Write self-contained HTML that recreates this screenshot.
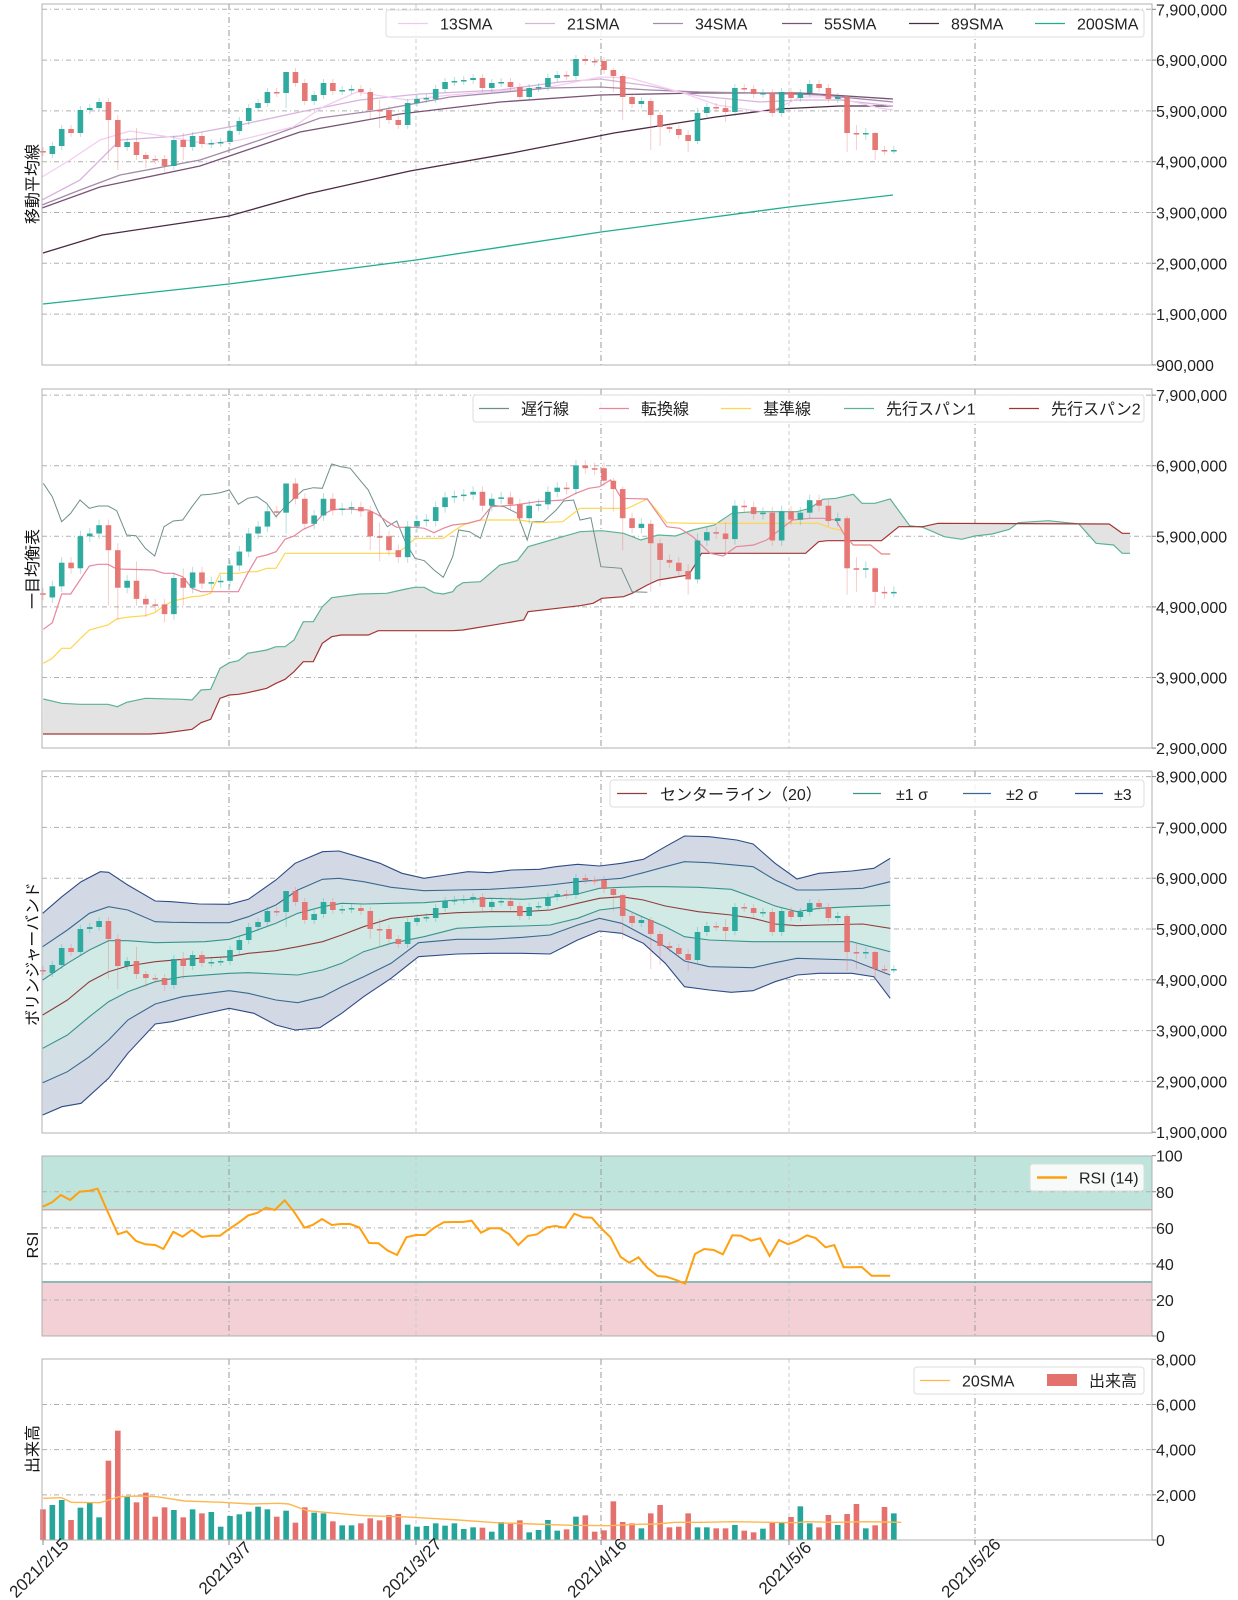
<!DOCTYPE html>
<html><head><meta charset="utf-8">
<style>
html,body{margin:0;padding:0;background:#fff;}
svg{display:block;font-family:"Liberation Sans","Noto Sans CJK JP",sans-serif;}
</style></head>
<body>
<svg id="s" xmlns="http://www.w3.org/2000/svg" width="1238" height="1600" viewBox="0 0 1238 1600"></svg>
<script>
const S=document.getElementById('s');
let H='';
const L=42,R=1152,LD=-12;
const GREEN='#26a69a',RED='#e5716f';
function X(i){return 43+i*9.35;}
function pl(pts,c,w,extra){return `<polyline fill="none" stroke="${c}" stroke-width="${w||1}" points="${pts.map(p=>p[0].toFixed(1)+','+p[1].toFixed(1)).join(' ')}" ${extra||''}/>`;}
function poly(a,b,fill){const pts=a.concat(b.slice().reverse());return `<polygon fill="${fill}" stroke="none" points="${pts.map(p=>p[0].toFixed(1)+','+p[1].toFixed(1)).join(' ')}"/>`;}
function cv(arr,f){const o=[];for(let k=0;k<arr.length;k+=2)o.push(f(arr[k],arr[k+1]));return o;}
const Z3=(a,b)=>[40+a/3,440+b/3], Z4=(a,b)=>[450+a/2.306,440+b/3], Z7=(a,b)=>[40+a/1.823,800+b/3], Z8=(a,b)=>[40+a/1.823,1150+b/3], Z6=(a,b)=>[a/1.2504,1300+b/3];

const panels=[[4,365],[389,748],[771,1133],[1156,1336],[1359,1540]];
const dates=[[229,'2021/3/7',1],[416,'2021/3/27',0],[601,'2021/4/16',1],[789,'2021/5/6',0],[975,'2021/5/26',1]];
function frame(t,b){
  let s='';
  for(const d of dates){s+=`<line x1="${d[0]}" y1="${t}" x2="${d[0]}" y2="${b}" stroke="${d[2]?'#999':'#ccc'}" stroke-width="1" stroke-dasharray="${d[2]?'6,3,1,3':'4,3'}"/>`;}
  return s;
}
function hgrid(ys,t,b){let s='';for(const y of ys){if(y>t+1&&y<b-1)s+=`<line x1="${L}" y1="${y}" x2="${R}" y2="${y}" stroke="#b0b0b0" stroke-width="1" stroke-dasharray="5,3,1,3"/>`;}return s;}
function box(t,b){return `<rect x="${L}" y="${t}" width="${R-L}" height="${b-t}" fill="none" stroke="#b0b0b0" stroke-width="1"/>`;}
function ticks(list){let s='';for(const [y,t] of list){s+=`<line x1="${R}" y1="${y}" x2="${R+4}" y2="${y}" stroke="#888"/><text x="${R+4}" y="${y+6}" font-size="16" fill="#222">${t}</text>`;}return s;}

const C=[[151,152],[154,146],[146,129],[129,133],[133,110],[110,108],[108,102],[102,120],[120,147],[147,142],[142,155],[155,159],[159,160],[159,166],[166,140],[140,147],[147,136],[136,144],[144,143],[143,142],[142,131],[131,121],[121,108],[108,103],[103,92],[92,93],[93,72],[72,83],[83,101],[101,95],[95,83],[83,91],[91,90],[90,89],[89,92],[92,110],[110,111],[110,120],[120,125],[125,103],[103,99],[99,98],[99,89],[89,82],[82,81],[81,80],[80,78],[78,88],[88,83],[83,82],[82,87],[87,97],[97,88],[88,87],[87,78],[78,75],[75,76],[76,59],[59,61],[61,62],[61,70],[70,76],[76,97],[97,104],[104,101],[101,115],[115,127],[127,129],[129,135],[135,141],[141,113],[113,107],[107,108],[108,112],[112,88],[88,89],[89,94],[94,93],[93,113],[113,92],[92,98],[98,93],[93,84],[84,88],[88,99],[99,97],[97,133],[133,134],[134,133],[133,150],[150,151],[150,150]];
const WICK={7:[98,160],8:[115,170],10:[128,160],11:[152,168],13:[155,172],15:[133,160],26:[88,108],35:[88,120],36:[100,128],61:[68,92],62:[74,120],65:[98,150],66:[112,146],69:[130,152],70:[108,144],73:[100,122],86:[95,152],87:[125,150],88:[128,140],89:[132,160]};
const P=y=>5.9+(110-y)/50.8;
const y1=p=>110-(p-5.9)*50.8, y2=p=>465.7-(p-6.9)*70.6, y3=p=>929-(p-5.9)*50.8;
function candles(fy){
  let s='';
  C.forEach((c,i)=>{
    const x=X(i);const up=c[1]<=c[0];const col=up?GREEN:RED;
    const po=P(c[0]),pc=P(c[1]);
    const w=WICK[i]||[Math.min(c[0],c[1])-4,Math.max(c[0],c[1])+4];
    const hi=fy(P(w[0])),lo=fy(P(w[1]));
    s+=`<line x1="${x}" y1="${hi}" x2="${x}" y2="${lo}" stroke="${col}" stroke-opacity="0.35" stroke-width="1"/>`;
    const a=fy(po),b=fy(pc);const top=Math.min(a,b),h=Math.max(1.5,Math.abs(a-b));
    s+=`<rect x="${x-2.8}" y="${top}" width="5.6" height="${h}" fill="${col}" fill-opacity="0.95"/>`;
  });
  return s;
}
function legend(x1,y,x2,items){
  x1+=LD;x2+=LD;
  let s=`<rect x="${x1}" y="${y}" width="${x2-x1}" height="27" rx="3" fill="#fff" fill-opacity="0.85" stroke="#ddd"/>`;
  for(const it of items){
    const sx=it.sx+LD;
    if(it.rect)s+=`<rect x="${sx}" y="${y+7}" width="30" height="12" fill="${it.c}"/>`;
    else s+=`<line x1="${sx}" y1="${y+13.5}" x2="${sx+30}" y2="${y+13.5}" stroke="${it.c}" stroke-width="${it.w||1.2}"/>`;
    s+=`<text x="${sx+42}" y="${y+19.5}" font-size="16" fill="#222">${it.t}</text>`;
  }
  return s;
}
function ylab(x,y,t){return `<text transform="translate(${x},${y}) rotate(-90)" text-anchor="middle" font-size="16" fill="#111">${t}</text>`;}

{const [t,b]=panels[0];
H+=frame(t,b);
const ys=[],tk=[];for(let k=0;k<8;k++){const y=9.3+k*50.8;ys.push(y);tk.push([y,((7.9-k)*1e6).toLocaleString('en-US')]);}
H+=hgrid(ys,t,b);
const s13=[[42,177],[70,160],[100,140],[130,131],[170,137],[207,144],[240,140],[293,127],[323,107],[357,92],[407,100],[450,95],[550,87],[600,77],[630,78],[683,93],[717,105],[750,110],[770,112],[800,97],[833,97],[880,108],[893,110]];
const s21=[[42,200],[80,180],[120,140],[180,136],[240,125],[300,112],[360,100],[420,94],[500,90],[560,82],[600,79],[650,86],[700,96],[760,102],[800,100],[840,100],[893,106]];
const s34=[[42,205],[80,190],[120,175],[200,160],[260,140],[320,118],[380,110],[450,97],[550,88],[600,87],[650,90],[700,92],[760,93],[820,95],[893,102]];
const s55=[[42,208],[100,187],[200,166],[300,132],[400,114],[500,102],[600,95],[700,93],[800,93],[893,99]];
const s89=[[43,253],[102,235],[229,216],[307,194],[410,171],[512,153],[614,133],[716,117],[778,109],[840,106],[893,106]];
const s200=[[43,304],[229,284],[416,260],[601,232],[789,207],[893,195]];
H+=pl(s200,'#1fae8f',1.3)+pl(s89,'#4a2a40',1.3)+pl(s55,'#7a5275',1.3)+pl(s34,'#a48aa8',1.3)+pl(s21,'#d6b4dc',1.3)+pl(s13,'#f4cdf2',1.3);
H+=candles(y1);
H+=box(t,b);
H+=ticks(tk);
H+=legend(398,10,1156,[{sx:410,t:'13SMA',c:'#f0c8f0'},{sx:537,t:'21SMA',c:'#d6b4dc'},{sx:665,t:'34SMA',c:'#a48aa8'},{sx:794,t:'55SMA',c:'#7a5275'},{sx:921,t:'89SMA',c:'#4a2a40'},{sx:1047,t:'200SMA',c:'#1fae8f'}]);
H+=ylab(38,184,'移動平均線');
}
{const [t,b]=panels[1];
H+=frame(t,b);
const ys=[],tk=[];for(let k=0;k<6;k++){const y=395.1+k*70.6;ys.push(y);tk.push([y,((7.9-k)*1e6).toLocaleString('en-US')]);}
H+=hgrid(ys,t,b);
const s1=cv([10,777,65,790,120,793,204,793,232,800,260,787,316,775,428,778,456,780,483,750,512,748,540,685,568,668,595,662,623,640,680,630,708,620,735,620,762,600,790,545,820,545,847,500,875,473,960,462,1040,460,1098,447,1125,442,1153,442,1182,458,1210,462,1238,455],Z3)
 .concat(cv([15,440,30,428,70,425,115,375,155,362,180,320,260,290,300,275,350,272,400,280,440,300,480,285,520,288,560,270,610,255,650,220,700,215,800,215,830,205,860,178,890,175,930,163,950,190,980,190,1015,177,1060,257,1090,262,1140,290,1180,298,1210,288,1250,282,1290,268,1310,248,1380,242,1450,252,1490,310,1530,315,1550,340,1568,340],Z4));
const s2=[[43,734],[150,734],[165,733]].concat(cv([456,868,483,848,512,838,540,775,568,765,595,763,623,758,680,745,708,730,735,718,762,695,790,665,820,665,847,610,875,590,903,585,985,585,1015,572,1238,572],Z3))
 .concat(cv([30,570,170,540,180,515,300,497,330,490,350,475,400,470,420,460,455,435,480,420,550,405,565,375,580,340,820,340,850,305,870,302,995,302,1035,260,1090,260,1125,250,1520,252,1550,280,1568,280],Z4));
H+=poly(s1,s2,'#e3e3e3');
H+=pl(s1,'#5cb394',1.2)+pl(s2,'#a33434',1.2);
const ch=cv([10,130,37,170,65,245,92,220,120,180,148,205,175,198,204,198,230,212,260,285,288,287,316,325,344,348,372,260,400,243,428,240,456,200,483,165,512,163,540,158,568,150,595,193,623,175,651,170,680,190,708,230,735,200,762,175,790,150,820,143,847,145,875,72,903,80,931,85,958,118,985,150,1015,215,1042,260,1070,243,1098,310,1125,355,1153,362,1182,390,1210,412,1238,350],Z3)
 .concat(cv([20,270,45,275,70,295,95,195,125,200,155,220,178,300,190,245,215,245,245,210,262,183,285,180,300,240,325,233,348,380,395,385,420,455,455,457],Z4));
H+=pl(ch,'#6f8f8c',1);
const tn=cv([10,568,37,548,65,462,92,462,120,420,148,378,175,373,204,373,230,387,340,390,372,400,400,400,428,410,456,445,483,455,595,455,623,400,651,352,680,345,708,335,735,298,762,288,790,268,820,255,847,225,875,210,903,207,985,210,1015,225,1042,245,1070,262,1125,262,1153,265,1182,278,1210,265,1238,255],Z3)
 .concat(cv([40,250,70,240,95,200,150,195,200,185,260,180,290,160,320,145,345,140,370,120,395,175,455,177,500,260,530,265,560,290,600,340,630,348,660,320,700,315,730,300,790,240,830,235,860,235,890,240,910,285,930,315,970,315,995,342,1015,342],Z4));
const kj=cv([10,670,37,655,65,625,92,625,120,597,148,570,204,555,230,537,260,532,316,527,344,518,372,497,400,483,456,470,483,468,512,460,540,400,595,400,623,395,651,395,680,385,708,385,735,340,1070,340,1098,320,1125,295,1210,295,1238,275],Z3)
 .concat(cv([30,255,70,240,160,240,200,248,260,245,300,205,410,205,455,177,500,248,560,250,850,250,880,265,900,270,930,315,970,315,995,342,1015,342],Z4));
H+=pl(kj,'#ffd54a',1.2)+pl(tn,'#e8869c',1.2);
H+=candles(y2);
H+=box(t,b);
H+=ticks(tk);
H+=legend(485,395,1156,[{sx:491,t:'遅行線',c:'#6f8f8c'},{sx:611,t:'転換線',c:'#e8869c'},{sx:733,t:'基準線',c:'#ffd54a'},{sx:856,t:'先行スパン1',c:'#5cb394'},{sx:1021,t:'先行スパン2',c:'#a33434'}]);
H+=ylab(38,569,'一目均衡表');
}
{const [t,b]=panels[2];
H+=frame(t,b);
const ys=[],tk=[];for(let k=0;k<8;k++){const y=776.6+k*50.8;ys.push(y);tk.push([y,((8.9-k)*1e6).toLocaleString('en-US')]);}
H+=hgrid(ys,t,b);
const u3=cv([5,340,40,290,75,245,110,215,125,217,160,255,210,303,240,305,290,312,345,313,380,298,430,240,465,190,515,155,545,153,580,170,620,190,660,220,700,235,740,225,780,215,820,218,860,210,910,208,940,200,980,193,1020,198,1060,190,1100,178,1140,140,1175,108,1220,110,1270,120,1300,132,1340,190,1380,237,1420,220,1480,213,1520,205,1550,175],Z7);
const u2=cv([5,440,50,390,90,340,125,320,160,330,210,365,240,367,300,368,345,368,380,350,430,315,470,270,515,238,545,235,590,245,640,262,700,272,760,270,820,268,880,262,930,255,980,245,1020,240,1060,235,1100,218,1140,200,1175,185,1220,188,1300,200,1340,240,1380,270,1420,270,1500,265,1550,245],Z7);
const u1=cv([5,540,50,490,90,450,125,422,160,422,210,428,300,425,345,418,380,400,430,370,470,340,515,320,550,310,590,312,640,310,700,308,760,300,820,295,880,298,930,292,980,282,1020,265,1060,262,1100,260,1140,260,1200,262,1260,268,1300,292,1340,318,1380,335,1420,325,1480,320,1550,316],Z7);
const cn=cv([5,645,50,600,90,545,125,515,160,498,210,485,260,478,345,470,380,460,430,452,470,440,515,425,550,405,590,380,640,355,700,345,760,338,820,335,880,335,930,330,980,310,1020,295,1060,290,1100,300,1140,318,1200,335,1260,345,1300,355,1340,372,1380,377,1420,375,1500,372,1550,385],Z7);
const l1=cv([5,745,50,705,90,650,125,605,160,575,210,545,260,530,345,520,380,518,430,522,470,525,515,510,550,490,590,455,640,430,700,410,760,385,820,380,880,378,930,375,980,355,1020,330,1060,322,1100,352,1140,380,1175,410,1220,420,1300,425,1380,425,1480,425,1550,455],Z7);
const l2=cv([5,848,50,815,90,770,125,720,160,660,210,612,260,590,345,572,380,580,430,600,470,608,515,590,550,560,590,530,640,490,690,428,760,418,820,418,880,412,930,405,980,375,1020,355,1060,370,1100,405,1140,440,1175,483,1220,500,1300,503,1340,488,1380,475,1480,480,1550,525],Z7);
const l3=cv([5,945,40,920,75,910,125,835,160,760,210,672,240,665,290,645,345,625,390,640,430,675,465,690,510,683,550,640,590,590,640,535,690,470,760,462,820,460,880,460,930,462,980,420,1020,393,1060,400,1100,430,1140,490,1175,560,1220,570,1260,577,1300,572,1340,545,1380,525,1420,520,1480,520,1520,530,1550,595],Z7);
H+=poly(u3,l3,'#d3d9e4')+poly(u2,l2,'#d2e0e6')+poly(u1,l1,'#d2eae6');
H+=pl(u3,'#2d4b86',1.1)+pl(l3,'#2d4b86',1.1)+pl(u2,'#3a6890',1.1)+pl(l2,'#3a6890',1.1)+pl(u1,'#38938c',1.1)+pl(l1,'#38938c',1.1)+pl(cn,'#8e3e3e',1.1);
H+=candles(y3);
H+=box(t,b);
H+=ticks(tk);
H+=`<rect x="${622+LD}" y="780" width="534" height="27" rx="3" fill="#fff" fill-opacity="0.85" stroke="#ddd"/>`;
H+=`<line x1="${629+LD}" y1="793.5" x2="${659+LD}" y2="793.5" stroke="#8e3e3e" stroke-width="1.2"/><text x="${672+LD}" y="800" font-size="16" fill="#222">センターライン（20）</text>`;
H+=`<line x1="${865+LD}" y1="793.5" x2="${893+LD}" y2="793.5" stroke="#38938c" stroke-width="1.2"/><text x="${908+LD}" y="800" font-size="16" fill="#222">±1 σ</text>`;
H+=`<line x1="${975+LD}" y1="793.5" x2="${1003+LD}" y2="793.5" stroke="#3a6890" stroke-width="1.2"/><text x="${1018+LD}" y="800" font-size="16" fill="#222">±2 σ</text>`;
H+=`<line x1="${1087+LD}" y1="793.5" x2="${1115+LD}" y2="793.5" stroke="#2d4b86" stroke-width="1.2"/><text x="${1126+LD}" y="800" font-size="16" fill="#222">±3</text>`;
H+=ylab(38,954,'ボリンジャーバンド');
}
{const [t,b]=panels[3];
const yr=v=>1336-v*1.803;
H+=`<rect x="${L}" y="${t}" width="${R-L}" height="${yr(70)-t}" fill="#bfe4dc"/>`;
H+=`<rect x="${L}" y="${yr(30)}" width="${R-L}" height="${b-yr(30)}" fill="#f2d0d6"/>`;
H+=frame(t,b);
H+=hgrid([yr(20),yr(40),yr(60),yr(80)],t,b);
H+=`<line x1="${L}" y1="${yr(70)}" x2="${R}" y2="${yr(70)}" stroke="#c89898" stroke-width="1.2"/>`;
H+=`<line x1="${L}" y1="${yr(30)}" x2="${R}" y2="${yr(30)}" stroke="#5aa7a0" stroke-width="1.4"/>`;
const rs=cv([5,170,22,157,38,135,55,150,72,125,90,122,105,116,122,180,142,253,158,244,175,273,192,283,210,285,225,297,243,245,260,260,277,240,295,261,312,257,328,257,345,237,362,218,380,196,396,189,412,173,428,180,446,151,463,185,482,233,497,225,514,207,532,225,548,222,565,222,582,232,600,279,617,280,634,302,651,315,668,262,685,255,702,255,718,234,736,217,752,216,770,216,787,212,804,248,820,235,838,235,855,252,872,285,889,258,906,253,924,232,940,228,957,233,974,191,990,202,1006,203,1023,235,1040,262,1058,320,1074,338,1091,322,1108,355,1126,378,1142,380,1160,390,1176,401,1194,312,1211,297,1228,300,1245,313,1262,256,1278,257,1296,272,1313,265,1330,318,1347,270,1364,283,1381,272,1398,256,1414,264,1432,292,1448,285,1465,352,1482,352,1498,351,1516,377,1550,377],Z8);
H+=pl(rs,'#ffa010',2);
H+=box(t,b);
H+=ticks([[yr(100),'100'],[yr(80),'80'],[yr(60),'60'],[yr(40),'40'],[yr(20),'20'],[yr(0),'0']]);
H+=legend(1042,1164,1156,[{sx:1049,t:'RSI (14)',c:'#ffa010',w:2.5}]);
H+=ylab(38,1245,'RSI');
}
{const [t,b]=panels[4];
const yv=v=>1540-v*0.02259;
H+=frame(t,b);
H+=hgrid([yv(2000),yv(4000),yv(6000)],t,b);
const V=[628,615,600,660,623,607,652,482,392,591,607,578,650,622,630,652,628,640,636,680,648,643,635,620,628,650,632,668,622,638,640,664,676,676,670,655,661,645,642,674,680,678,670,677,670,687,682,683,695,666,672,661,697,690,660,692,688,650,646,695,691,604,666,670,685,640,615,682,680,640,682,682,685,685,675,692,697,686,667,667,651,619,670,682,645,675,642,612,685,676,621,640];
C.forEach((c,i)=>{const up=c[1]<=c[0];const top=1300+V[i]/3;H+=`<rect x="${X(i)-2.8}" y="${top}" width="5.6" height="${1540-top}" fill="${up?GREEN:RED}"/>`;});
const vs=cv([54,595,77,593,89,607,125,608,149,590,172,588,196,590,231,603,255,605,278,607,314,612,349,610,361,612,384,632,420,640,455,647,502,650,537,655,573,660,620,668,667,672,714,676,761,677,797,673,820,672,844,667,880,667,915,665,962,667,997,668,1009,665,1044,667,1080,665,1127,667],Z6);
H+=pl(vs,'#ffb74d',1.4);
H+=box(t,b);
H+=ticks([[yv(8000),'8,000'],[yv(6000),'6,000'],[yv(4000),'4,000'],[yv(2000),'2,000'],[yv(0),'0']]);
H+=legend(926,1367,1156,[{sx:932,t:'20SMA',c:'#ffb74d'},{sx:1059,t:'出来高',c:RED,rect:true}]);
H+=ylab(38,1449,'出来高');
}
for(const [x,t] of [[43,'2021/2/15']].concat(dates.map(d=>[d[0],d[1]]))){
  H+=`<line x1="${x}" y1="1540" x2="${x}" y2="1545" stroke="#888"/>`;
  H+=`<text transform="translate(${x},1572) rotate(-45)" text-anchor="middle" font-size="17" fill="#222">${t}</text>`;
}
S.innerHTML=H;
</script>
</body></html>
